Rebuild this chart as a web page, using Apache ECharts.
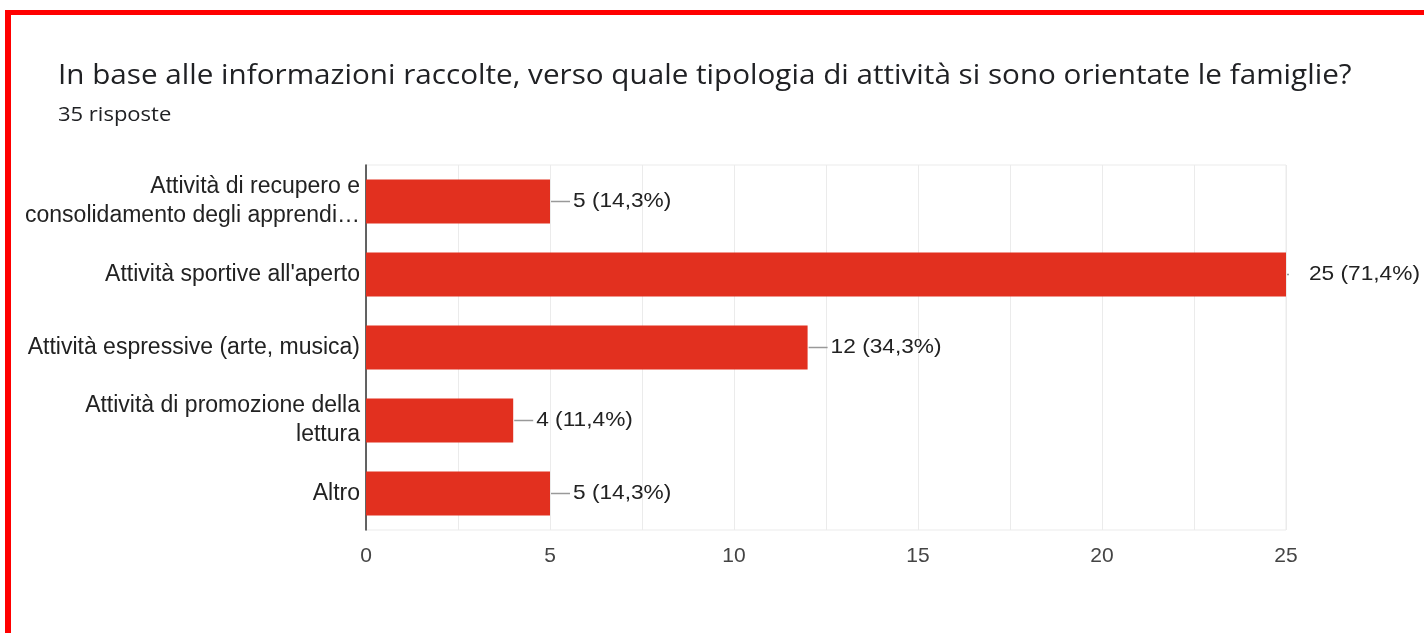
<!DOCTYPE html>
<html>
<head>
<meta charset="utf-8">
<script src="https://cdn.jsdelivr.net/npm/echarts@6/dist/echarts.min.js"></script>
<style>
  html, body { margin: 0; padding: 0; background: #fff; }
  #chart { width: 1424px; height: 633px; }
</style>
</head>
<body>
<div id="chart"></div>
<script>
// Survey answers: which kind of activity families chose
const categories = [
  'Attività di recupero e\nconsolidamento degli apprendi…',
  "Attività sportive all'aperto",
  'Attività espressive (arte, musica)',
  'Attività di promozione della\nlettura',
  'Altro'
];
const counts = [5, 25, 12, 4, 5];
const percents = ['14,3%', '71,4%', '34,3%', '11,4%', '14,3%'];
const xTicks = [0, 5, 10, 15, 20, 25];

const titleText = 'In base alle informazioni raccolte, verso quale tipologia di attività si sono orientate le famiglie?';
const subtitleText = '35 risposte';

const BAR_COLOR = '#e2301f';
const LABEL_FONT = '"Liberation Sans", Arial, sans-serif';
const TITLE_FONT = '"Open Sans", Roboto, sans-serif';

const chart = echarts.init(document.getElementById('chart'), null, { renderer: 'canvas' });

const option = {
  animation: false,
  backgroundColor: '#ffffff',
  graphic: [
    // red frame along the top and left edges
    { type: 'rect', shape: { x: 5, y: 10, width: 1419, height: 5 }, style: { fill: '#ff0000' }, z: 100 },
    { type: 'rect', shape: { x: 5, y: 10, width: 6, height: 623 }, style: { fill: '#ff0000' }, z: 100 },
    {
      type: 'text', x: 58, y: 76, scaleX: 1.059,
      style: { text: titleText, font: '28px ' + TITLE_FONT, fill: '#202124', verticalAlign: 'middle' }
    },
    {
      type: 'text', x: 58, y: 115, scaleX: 1.1,
      style: { text: subtitleText, font: '20px ' + TITLE_FONT, fill: '#202124', verticalAlign: 'middle' }
    }
  ],
  grid: {
    left: 366, right: 138, top: 165, bottom: 103,
    show: true, borderColor: '#ebebeb', borderWidth: 1
  },
  xAxis: {
    type: 'value',
    min: 0, max: 25, interval: 5,
    axisLine: { show: false },
    axisTick: { show: false },
    axisLabel: {
      color: '#444', fontSize: 21, fontFamily: LABEL_FONT, margin: 16,
      formatter: v => (xTicks.includes(v) ? String(v) : '')
    },
    splitLine: { show: true, lineStyle: { color: '#ebebeb', width: 1 } },
    minorTick: { show: false, splitNumber: 2 },
    minorSplitLine: { show: true, lineStyle: { color: '#ebebeb', width: 1 } }
  },
  yAxis: {
    type: 'category',
    data: categories,
    inverse: true,
    axisLine: { show: true, onZero: false, lineStyle: { color: '#333', width: 1.5 } },
    axisTick: { show: false },
    axisLabel: {
      color: '#222', fontSize: 23, fontFamily: LABEL_FONT, margin: 6,
      lineHeight: 29, align: 'right', padding: [3, 0, 0, 0]
    }
  },
  series: [
    {
      type: 'bar',
      data: counts,
      barCategoryGap: '40%',
      itemStyle: { color: BAR_COLOR },
      z: 2
    },
    {
      // value labels with a short leader line
      type: 'custom',
      data: counts.map((v, i) => [v, i]),
      clip: false,
      z: 3,
      renderItem: function (params, api) {
        const v = api.value(0);
        const i = api.value(1);
        const idx = params.dataIndex;
        const pt = api.coord([v, i]);
        const right = params.coordSys.x + params.coordSys.width;
        const lineEnd = Math.min(pt[0] + 20, right + 3);
        return {
          type: 'group',
          children: [
            {
              type: 'line',
              shape: { x1: pt[0] + 1, y1: pt[1], x2: lineEnd, y2: pt[1] },
              style: { stroke: '#999', lineWidth: 1.5 }
            },
            {
              type: 'text',
              x: pt[0] + 23, y: pt[1],
              scaleX: 1.08,
              style: {
                text: v + ' (' + percents[idx] + ')',
                font: '21px ' + LABEL_FONT,
                fill: '#222',
                align: 'left',
                verticalAlign: 'middle'
              }
            }
          ]
        };
      }
    }
  ]
};

chart.setOption(option);
</script>
</body>
</html>
